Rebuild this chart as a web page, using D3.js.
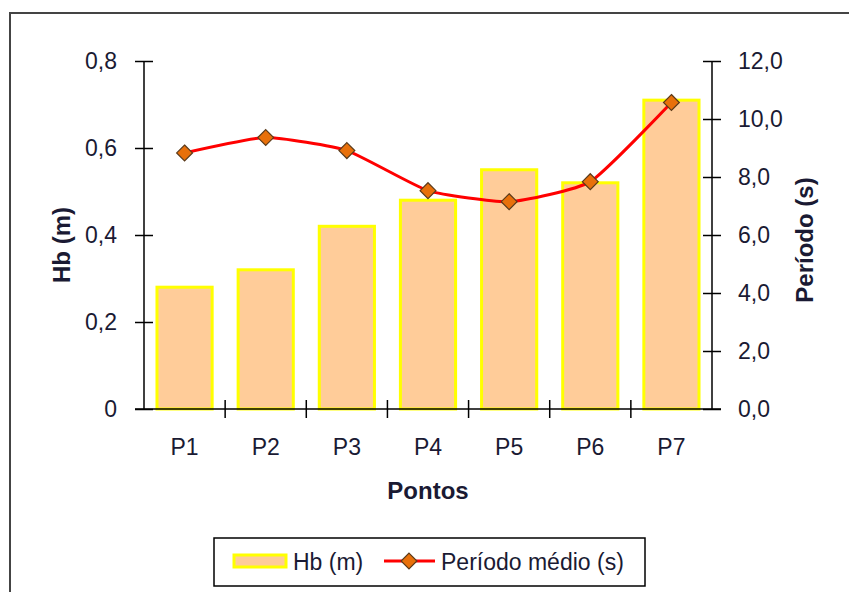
<!DOCTYPE html>
<html>
<head>
<meta charset="utf-8">
<script src="https://cdn.jsdelivr.net/npm/d3@7"></script>
<style>
  html, body { margin: 0; padding: 0; background: #fff; }
  svg { display: block; font-family: "Liberation Sans", Arial, sans-serif; }
</style>
</head>
<body>
<svg id="chart" width="849" height="592"></svg>
<script>
// Wave height (Hb) and mean wave period at each survey point
const points = ["P1", "P2", "P3", "P4", "P5", "P6", "P7"];
const hb = [0.28, 0.32, 0.42, 0.48, 0.55, 0.52, 0.71];
const periodo = [8.83, 9.36, 8.91, 7.53, 7.15, 7.84, 10.57];
const hbTicks = [0, 0.2, 0.4, 0.6, 0.8];
const periodoTicks = [0, 2, 4, 6, 8, 10, 12];

const svg = d3.select("#chart");
const textColor = "#1a1a33";

// Chart frame
svg.append("rect")
  .attr("x", 10).attr("y", 13)
  .attr("width", 870).attr("height", 620)
  .attr("fill", "#fff")
  .attr("stroke", "#444").attr("stroke-width", 2);

const plot = { left: 144, right: 712, top: 61, bottom: 409 };

const x = d3.scaleBand().domain(points).range([plot.left, plot.right]).padding(0);
const yL = d3.scaleLinear().domain([0, 0.8]).range([plot.bottom, plot.top]);
const yR = d3.scaleLinear().domain([0, 12]).range([plot.bottom, plot.top]);

const fmtL = d => d === 0 ? "0" : d.toFixed(1).replace(".", ",");
const fmtR = d => d.toFixed(1).replace(".", ",");

// Bars
const barW = x.bandwidth() * 0.68;
svg.append("g").selectAll("rect")
  .data(points)
  .join("rect")
  .attr("x", (d) => x(d) + (x.bandwidth() - barW) / 2)
  .attr("y", (d, i) => yL(hb[i]))
  .attr("width", barW)
  .attr("height", (d, i) => yL(0) - yL(hb[i]))
  .attr("fill", "#FFCC99")
  .attr("stroke", "#FFFF00")
  .attr("stroke-width", 3);

// Axes (ticks cross the axis line)
function styleAxis(g) {
  g.select(".domain").remove();
  g.selectAll("text").attr("fill", textColor).style("font-size", "23px");
}

const axL = svg.append("g")
  .attr("transform", `translate(${plot.left},0)`)
  .call(d3.axisLeft(yL).tickValues(hbTicks).tickFormat(fmtL).tickSize(0).tickPadding(27))
  .call(styleAxis);
axL.selectAll(".tick line").attr("x1", -9).attr("x2", 9).attr("stroke", "#000").attr("stroke-width", 1.5);
axL.append("line").attr("y1", plot.top).attr("y2", plot.bottom).attr("stroke", "#000").attr("stroke-width", 1.5);

const axR = svg.append("g")
  .attr("transform", `translate(${plot.right},0)`)
  .call(d3.axisRight(yR).tickValues(periodoTicks).tickFormat(fmtR).tickSize(0).tickPadding(26))
  .call(styleAxis);
axR.selectAll(".tick line").attr("x1", -9).attr("x2", 9).attr("stroke", "#000").attr("stroke-width", 1.5);
axR.append("line").attr("y1", plot.top).attr("y2", plot.bottom).attr("stroke", "#000").attr("stroke-width", 1.5);

const axB = svg.append("g")
  .attr("transform", `translate(0,${plot.bottom})`)
  .call(d3.axisBottom(x).tickSize(0).tickPadding(30))
  .call(styleAxis);
axB.selectAll(".tick line").remove();
axB.append("line").attr("x1", plot.left - 9).attr("x2", plot.right + 9).attr("stroke", "#000").attr("stroke-width", 1.5);
axB.selectAll(".sep")
  .data(points.slice(1))
  .join("line")
  .attr("class", "sep")
  .attr("x1", d => x(d)).attr("x2", d => x(d))
  .attr("y1", -9).attr("y2", 9)
  .attr("stroke", "#000").attr("stroke-width", 1.5);

// Mean period line (gently smoothed) with diamond markers
const line = d3.line()
  .x((d, i) => x(points[i]) + x.bandwidth() / 2)
  .y(d => yR(d))
  .curve(d3.curveCardinal.tension(0.5));

svg.append("path")
  .datum(periodo)
  .attr("d", line)
  .attr("fill", "none")
  .attr("stroke", "#FF0000")
  .attr("stroke-width", 3);

const diamond = d3.symbol().type(d3.symbolDiamond2).size(160);
svg.append("g").selectAll("path")
  .data(periodo)
  .join("path")
  .attr("d", diamond)
  .attr("transform", (d, i) => `translate(${x(points[i]) + x.bandwidth() / 2},${yR(d)})`)
  .attr("fill", "#E8700A")
  .attr("stroke", "#5a3a1a")
  .attr("stroke-width", 1.2);

// Axis titles
svg.append("text")
  .attr("transform", `translate(70,245) rotate(-90)`)
  .attr("text-anchor", "middle")
  .attr("font-weight", "bold").style("font-size", "24px")
  .attr("fill", textColor)
  .text("Hb (m)");

svg.append("text")
  .attr("transform", `translate(813,240) rotate(-90)`)
  .attr("text-anchor", "middle")
  .attr("font-weight", "bold").style("font-size", "24px")
  .attr("fill", textColor)
  .text("Período (s)");

svg.append("text")
  .attr("x", (plot.left + plot.right) / 2).attr("y", 499)
  .attr("text-anchor", "middle")
  .attr("font-weight", "bold").style("font-size", "24px")
  .attr("fill", textColor)
  .text("Pontos");

// Legend
const lg = svg.append("g");
lg.append("rect")
  .attr("x", 214).attr("y", 538).attr("width", 431).attr("height", 48)
  .attr("fill", "#fff").attr("stroke", "#000").attr("stroke-width", 1.5);
lg.append("rect")
  .attr("x", 234).attr("y", 555).attr("width", 52).attr("height", 12)
  .attr("fill", "#FFCC99").attr("stroke", "#FFFF00").attr("stroke-width", 3);
lg.append("text")
  .attr("x", 293).attr("y", 570)
  .style("font-size", "23px").attr("fill", textColor)
  .text("Hb (m)");
lg.append("line")
  .attr("x1", 384).attr("x2", 435).attr("y1", 561).attr("y2", 561)
  .attr("stroke", "#FF0000").attr("stroke-width", 3);
lg.append("path")
  .attr("d", diamond)
  .attr("transform", "translate(409,561)")
  .attr("fill", "#E8700A").attr("stroke", "#5a3a1a").attr("stroke-width", 1.2);
lg.append("text")
  .attr("x", 441).attr("y", 570)
  .style("font-size", "23px").attr("fill", textColor)
  .text("Período médio (s)");
</script>
</body>
</html>
